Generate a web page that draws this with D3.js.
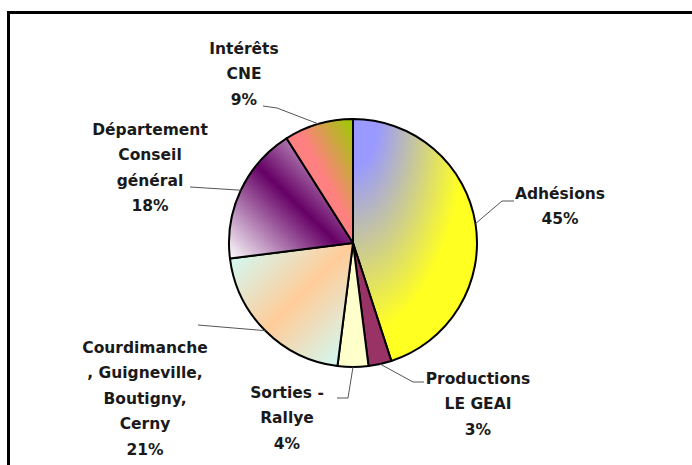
<!DOCTYPE html>
<html>
<head>
<meta charset="utf-8">
<script src="https://cdn.jsdelivr.net/npm/d3@7"></script>
<style>
  body { margin: 0; background: #fff; overflow: hidden; }
  text { font-family: "Comic Sans MS", "DejaVu Sans", sans-serif; font-size: 15.5px; font-weight: bold; fill: #1a1a1a; }
</style>
</head>
<body>
<script>
/*
    Data for the pie: one value per slice, in clockwise order
    starting at twelve o'clock, and the label lines for each one.
*/
var categories = ["Adhésions", "Productions LE GEAI", "Sorties - Rallye",
    "Courdimanche, Guigneville, Boutigny, Cerny", "Département Conseil général", "Intérêts CNE"];
var values = [45, 3, 4, 21, 18, 9];
var labelLines = [
    ["Adhésions"],
    ["Productions", "LE GEAI"],
    ["Sorties -", "Rallye"],
    ["Courdimanche", ", Guigneville,", "Boutigny,", "Cerny"],
    ["Département", "Conseil", "général"],
    ["Intérêts", "CNE"]
];

var w = 692;
var h = 465;
var cx = 353, cy = 243, radius = 124;
var lineStep = 25.5;

/* label centre x, centre y of first line, and leader line bends */
var labelPos = [
    {x: 560, y: 193, pts: [[502, 201], [514, 201]]},
    {x: 478, y: 378, pts: [[413, 382], [424, 382]]},
    {x: 287, y: 392, pts: [[348, 398], [337, 398]]},
    {x: 145, y: 347, pts: [[198, 325]]},
    {x: 150, y: 129, pts: [[190, 187]]},
    {x: 244, y: 48, pts: [[277, 108], [263, 106]]}
];

var svg = d3.select("body")
    .append("svg")
    .attr("width", w)
    .attr("height", h);

/* gradients, one per slice (bounding box units) */
var defs = svg.append("defs");

var g0 = defs.append("radialGradient").attr("id", "grad0")
    .attr("cx", 0).attr("cy", 0).attr("fx", 0).attr("fy", 0).attr("r", 1);
g0.append("stop").attr("offset", 0.2).attr("stop-color", "#9999ff");
g0.append("stop").attr("offset", 0.9).attr("stop-color", "#ffff22");

function linear(id, x1, y1, x2, y2, stops){
    var g = defs.append("linearGradient").attr("id", id)
        .attr("x1", x1).attr("y1", y1).attr("x2", x2).attr("y2", y2);
    stops.forEach(function(s){
        g.append("stop").attr("offset", s[0]).attr("stop-color", s[1]);
    });
}
linear("grad3", 0, 0, 1, 1, [[0, "#ccffff"], [0.5, "#ffcc99"], [1, "#ccffff"]]);
linear("grad4", 0, 1, 1, 0, [[0, "#ffffff"], [0.5, "#660066"], [1, "#ffffff"]]);
linear("grad5", 0, 1, 1, 0, [[0, "#ff8080"], [0.55, "#ff8080"], [1, "#99cc00"]]);

var fills = ["url(#grad0)", "#993366", "#ffffcc", "url(#grad3)", "url(#grad4)", "url(#grad5)"];

// frame
svg.append("rect")
    .attr("x", 8.5)
    .attr("y", 12.5)
    .attr("width", 720)
    .attr("height", 500)
    .attr("fill", "none")
    .attr("stroke", "#000")
    .attr("stroke-width", 3);

var pie = d3.pie().sort(null).value(function(d){ return d; });
var arcs = pie(values);
var arc = d3.arc().innerRadius(0).outerRadius(radius);
var edge = d3.arc().innerRadius(radius).outerRadius(radius);

var g = svg.append("g").attr("transform", "translate(" + cx + "," + cy + ")");

g.selectAll("path")
    .data(arcs)
    .enter()
    .append("path")
    .attr("d", arc)
    .attr("fill", function(d, i){ return fills[i]; })
    .attr("stroke", "#000")
    .attr("stroke-width", 2)
    .attr("stroke-linejoin", "round");

// leader lines
svg.selectAll("polyline.leader")
    .data(arcs)
    .enter()
    .append("polyline")
    .attr("class", "leader")
    .attr("points", function(d, i){
        var c = edge.centroid(d);
        var pts = [[c[0] + cx, c[1] + cy]].concat(labelPos[i].pts);
        return pts.map(function(p){ return p.join(","); }).join(" ");
    })
    .attr("fill", "none")
    .attr("stroke", "#555")
    .attr("stroke-width", 1);

// labels
var labels = svg.selectAll("text.lbl")
    .data(arcs)
    .enter()
    .append("text")
    .attr("class", "lbl")
    .attr("text-anchor", "middle");

labels.each(function(d, i){
    var t = d3.select(this);
    var lines = labelLines[i].concat([values[i] + "%"]);
    lines.forEach(function(s, k){
        t.append("tspan")
            .attr("x", labelPos[i].x)
            .attr("y", labelPos[i].y + 5.5 + k * lineStep)
            .text(s);
    });
});
</script>
</body>
</html>
